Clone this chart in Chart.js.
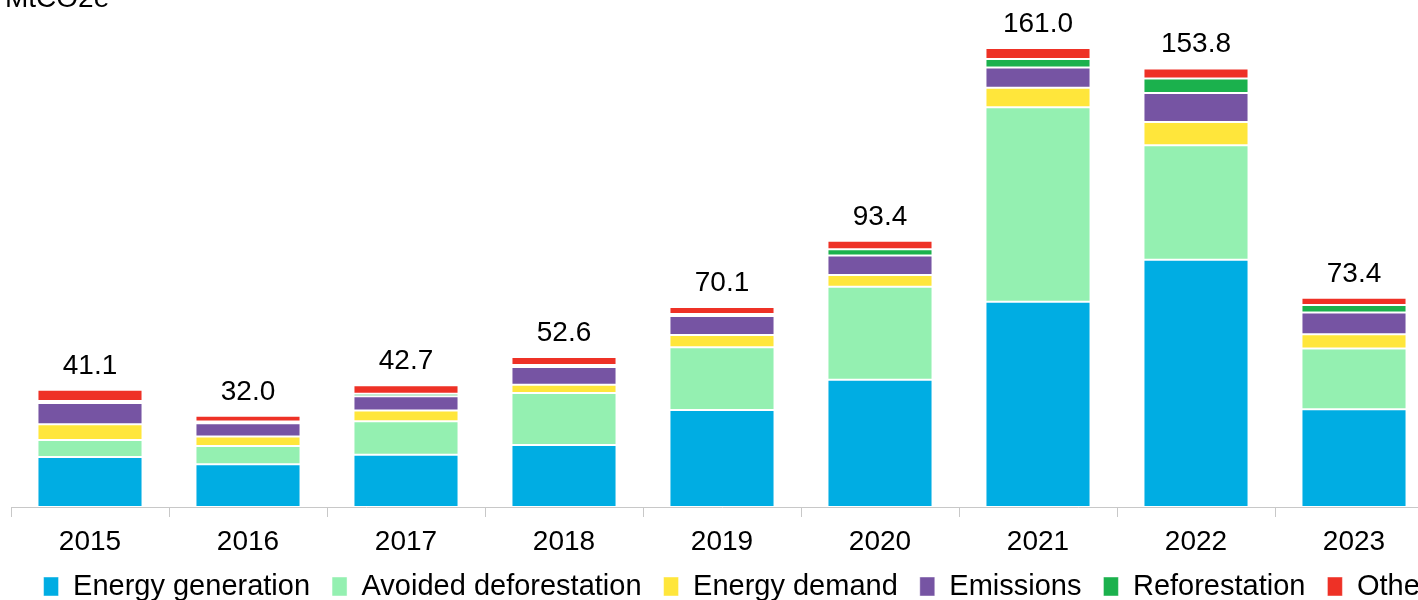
<!DOCTYPE html>
<html>
<head>
<meta charset="utf-8">
<script src="https://cdn.jsdelivr.net/npm/chart.js@4/dist/chart.umd.min.js"></script>
<style>
  html, body { margin: 0; padding: 0; background: #fff; overflow: hidden; }
  #wrap { width: 1462px; height: 600px; }
</style>
</head>
<body>
<div id="wrap"><canvas id="chart" width="1462" height="600"></canvas></div>
<script>
const years = ['2015', '2016', '2017', '2018', '2019', '2020', '2021', '2022', '2023'];
const totals = ['41.1', '32.0', '42.7', '52.6', '70.1', '93.4', '161.0', '153.8', '73.4'];

const energyGeneration = [17.5, 15.0, 18.3, 21.7, 34.0, 44.6, 72.0, 86.7, 34.3];
const avoidedDeforestation = [6.0, 6.4, 11.8, 18.3, 22.0, 32.6, 68.2, 40.2, 21.3];
const energyDemand = [5.5, 3.3, 3.7, 2.9, 4.3, 4.2, 6.8, 8.1, 5.0];
const emissions = [7.5, 4.7, 5.0, 6.2, 6.7, 6.8, 7.1, 10.2, 7.6];
const reforestation = [0.7, 0.6, 0.9, 0.7, 0.7, 2.2, 3.0, 5.1, 2.6];
const other = [3.9, 2.0, 3.0, 2.8, 2.4, 3.0, 3.9, 3.5, 2.6];

const FONT = "'Liberation Sans', Arial, sans-serif";
const CANVAS_W = 1462;

// totals above each stack
const totalLabels = {
  id: 'totalLabels',
  afterDatasetsDraw(chart) {
    const ctx = chart.ctx;
    const last = chart.getDatasetMeta(chart.data.datasets.length - 1);
    ctx.save();
    ctx.font = '28px ' + FONT;
    ctx.fillStyle = '#000';
    ctx.textAlign = 'center';
    ctx.textBaseline = 'alphabetic';
    last.data.forEach((bar, i) => {
      ctx.fillText(totals[i], bar.x, bar.y - 16);
    });
    ctx.restore();
  }
};

// unit text in the top-left corner
const unitLabel = {
  id: 'unitLabel',
  afterDraw(chart) {
    const ctx = chart.ctx;
    ctx.save();
    ctx.font = '28px ' + FONT;
    ctx.fillStyle = '#000';
    ctx.textAlign = 'left';
    ctx.textBaseline = 'alphabetic';
    ctx.fillText('MtCO2e', 5, 7);
    ctx.restore();
  }
};

// keep the legend tight at the bottom
const legendFit = {
  id: 'legendFit',
  afterInit(chart) {
    const legend = chart.legend;
    const origFit = legend.fit;
    const origDraw = legend._draw;
    legend.fit = function () {
      origFit.call(this);
      this.height = 43;
    };
    legend._draw = function () {
      const c = this.ctx;
      c.save();
      c.translate(0, -7);
      origDraw.call(this);
      c.restore();
    };
  }
};

const makeSet = (label, data, color) => ({
  label: label,
  data: data,
  backgroundColor: color,
  borderColor: 'rgba(255,255,255,0.45)',
  borderWidth: 1,
  borderSkipped: false,
  barPercentage: 0.665,
  categoryPercentage: 1.0
});

const ctx = document.getElementById('chart').getContext('2d');
new Chart(ctx, {
  type: 'bar',
  data: {
    labels: years,
    datasets: [
      makeSet('Energy generation', energyGeneration, '#00ADE3'),
      makeSet('Avoided deforestation', avoidedDeforestation, '#94F0B1'),
      makeSet('Energy demand', energyDemand, '#FFE63B'),
      makeSet('Emissions', emissions, '#7654A3'),
      makeSet('Reforestation', reforestation, '#1BB14D'),
      makeSet('Other', other, '#EE3126')
    ]
  },
  options: {
    responsive: false,
    animation: false,
    devicePixelRatio: 1,
    layout: { padding: { left: 11, top: 8, right: 0, bottom: 0 } },
    plugins: {
      tooltip: { enabled: false },
      legend: {
        position: 'bottom',
        align: 'center',
        labels: {
          color: '#000',
          font: { family: FONT, size: 29 },
          boxWidth: 15,
          boxHeight: 19,
          padding: 22
        }
      }
    },
    scales: {
      x: {
        stacked: true,
        grid: {
          offset: true,
          drawOnChartArea: false,
          drawTicks: true,
          tickLength: 10,
          color: '#c8c8c8'
        },
        border: { display: true, color: '#c8c8c8', width: 1 },
        ticks: {
          color: '#000',
          font: { family: FONT, size: 28 },
          padding: 8,
          maxRotation: 0
        },
        afterFit(scale) { scale.height = 50; }
      },
      y: {
        stacked: true,
        position: 'right',
        min: 0,
        max: 175,
        grid: { display: false },
        border: { display: false },
        ticks: { display: false },
        afterFit(scale) { scale.width = CANVAS_W - 1433; }
      }
    }
  },
  plugins: [totalLabels, unitLabel, legendFit]
});
</script>
</body>
</html>
